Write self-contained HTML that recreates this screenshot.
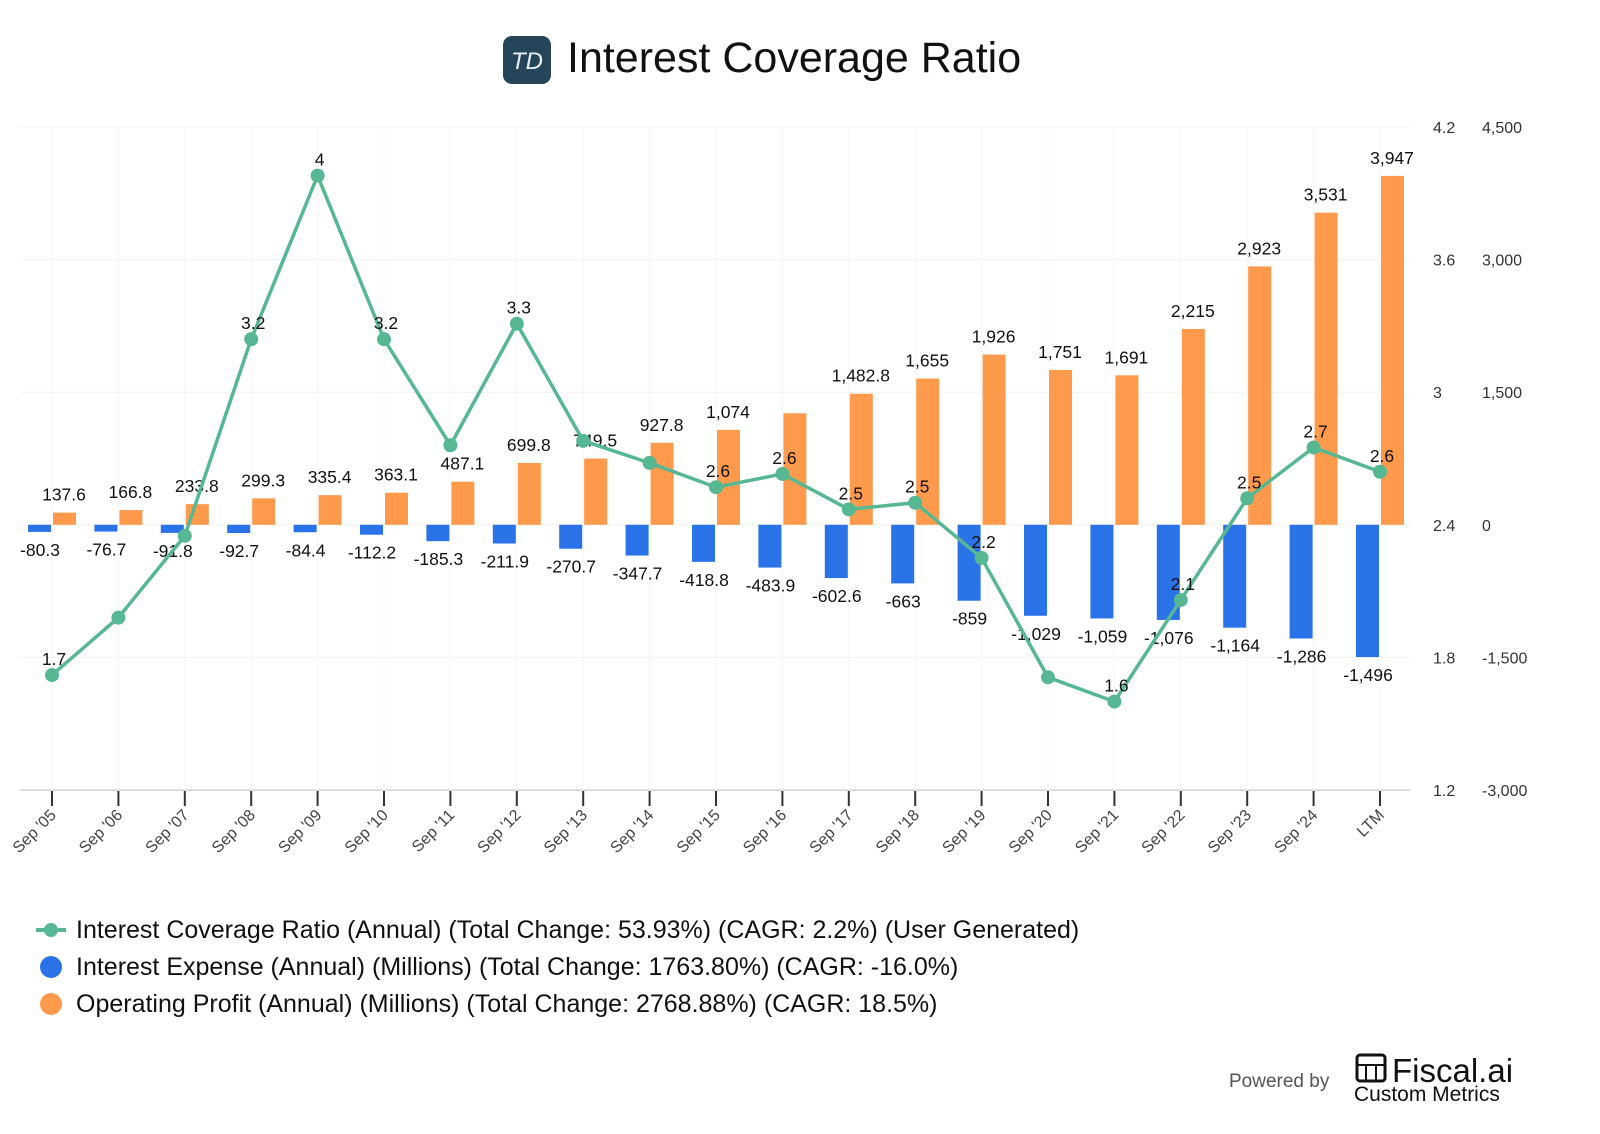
<!DOCTYPE html>
<html><head><meta charset="utf-8"><style>
body{margin:0;background:#fff;font-family:"Liberation Sans",sans-serif;}
svg{display:block}
svg text{font-family:"Liberation Sans",sans-serif;}
</style></head><body>
<svg id="c" width="1600" height="1134" viewBox="0 0 1600 1134" xmlns="http://www.w3.org/2000/svg">
<g>
<rect x="503" y="36" width="48" height="48" rx="9" fill="#24455a"/>
<text x="527" y="69" text-anchor="middle" font-size="24" font-style="italic" fill="#e8eef2">TD</text>
<text x="567" y="72" font-size="43" fill="#111">Interest Coverage Ratio</text>
</g>
<g id="grid"></g>
<g id="bars"></g>
<g id="line"></g>
<g id="axes"></g>
<g>
<g><line x1="36" y1="930" x2="66" y2="930" stroke="#55b892" stroke-width="4"/><circle cx="51" cy="930" r="7" fill="#55b892"/><text x="76" y="938" font-size="25" fill="#111">Interest Coverage Ratio (Annual) (Total Change: 53.93%) (CAGR: 2.2%) (User Generated)</text></g>
<g><circle cx="51" cy="967" r="11" fill="#2a72e8"/><text x="76" y="975" font-size="25" fill="#111">Interest Expense (Annual) (Millions) (Total Change: 1763.80%) (CAGR: -16.0%)</text></g>
<g><circle cx="51" cy="1004" r="11" fill="#ff9a4d"/><text x="76" y="1012" font-size="25" fill="#111">Operating Profit (Annual) (Millions) (Total Change: 2768.88%) (CAGR: 18.5%)</text></g>
</g>
<g>
<text x="1229" y="1087" font-size="19" fill="#555">Powered by</text>
<rect x="1357" y="1055" width="28" height="26" rx="3" fill="none" stroke="#111" stroke-width="3"/>
<line x1="1357" y1="1065" x2="1385" y2="1065" stroke="#111" stroke-width="2"/>
<line x1="1366" y1="1065" x2="1366" y2="1081" stroke="#111" stroke-width="2"/>
<line x1="1376" y1="1065" x2="1376" y2="1081" stroke="#111" stroke-width="2"/>
<text x="1392" y="1082" font-size="33" fill="#111">Fiscal.ai</text>
<text x="1354" y="1101" font-size="21" fill="#111">Custom Metrics</text>
</g>
</svg>
<script>
const categories=["Sep '05","Sep '06","Sep '07","Sep '08","Sep '09","Sep '10","Sep '11","Sep '12","Sep '13","Sep '14","Sep '15","Sep '16","Sep '17","Sep '18","Sep '19","Sep '20","Sep '21","Sep '22","Sep '23","Sep '24","LTM"];
const ratioValues=[1.72,1.98,2.35,3.24,3.98,3.24,2.76,3.31,2.78,2.68,2.57,2.63,2.47,2.50,2.25,1.71,1.60,2.06,2.52,2.75,2.64];
const ratioLabels=["1.7","","","3.2","4","3.2","","3.3","","","2.6","2.6","2.5","2.5","2.2","","1.6","2.1","2.5","2.7","2.6"];
const expenseValues=[-80.3,-76.7,-91.8,-92.7,-84.4,-112.2,-185.3,-211.9,-270.7,-347.7,-418.8,-483.9,-602.6,-663,-859,-1029,-1059,-1076,-1164,-1286,-1496];
const expenseLabels=["-80.3","-76.7","-91.8","-92.7","-84.4","-112.2","-185.3","-211.9","-270.7","-347.7","-418.8","-483.9","-602.6","-663","-859","-1,029","-1,059","-1,076","-1,164","-1,286","-1,496"];
const profitValues=[137.6,166.8,233.8,299.3,335.4,363.1,487.1,699.8,749.5,927.8,1074,1262,1482.8,1655,1926,1751,1691,2215,2923,3531,3947];
const profitLabels=["137.6","166.8","233.8","299.3","335.4","363.1","487.1","699.8","749.5","927.8","1,074","","1,482.8","1,655","1,926","1,751","1,691","2,215","2,923","3,531","3,947"];
const ratioTicks=[1.2,1.8,2.4,3,3.6,4.2];
const ratioTickLabels=["1.2","1.8","2.4","3","3.6","4.2"];
const moneyTicks=[-3000,-1500,0,1500,3000,4500];
const moneyTickLabels=["-3,000","-1,500","0","1,500","3,000","4,500"];

const NS="http://www.w3.org/2000/svg";
const pTop=127,pBot=790,pLeft=20,pRight=1410;
const yR=v=>pBot-(v-1.2)/3*(pBot-pTop);
const yM=v=>pBot-(v+3000)/7500*(pBot-pTop);
const xC=i=>52+i*(1380-52)/(categories.length-1);
function mk(tag,attrs,parent,txt){const e=document.createElementNS(NS,tag);for(const k in attrs)e.setAttribute(k,attrs[k]);if(txt!==undefined)e.textContent=txt;document.getElementById(parent).appendChild(e);return e;}
ratioTicks.forEach((t,i)=>{
 const y=yR(t);
 const g=mk('line',{x1:pLeft,x2:pRight,y1:y,y2:y,stroke:i==0?'#ddd':'#f0f0f0','stroke-width':i==0?2:1},'grid');
 
 
 const a=mk('text',{x:1433,y:y+6,'font-size':16,fill:'#333'},'axes',ratioTickLabels[i]);
 
 
});
moneyTicks.forEach((t,i)=>{
 const b=mk('text',{x:1482,y:yM(t)+6,'font-size':16,fill:'#333'},'axes',moneyTickLabels[i]);
 
 
});
categories.forEach((c,i)=>{
 const x=xC(i);
 const v=mk('line',{x1:x,x2:x,y1:pTop,y2:pBot,stroke:'#f6f6f6'},'grid');
 
 
 const tk=mk('line',{x1:x,x2:x,y1:pBot+1,y2:pBot+16,stroke:'#333','stroke-width':2},'axes');
 
 
 const lb=mk('text',{x:x+5,y:pBot+26,'font-size':16,fill:'#444','text-anchor':'end',transform:`rotate(-45 ${x+5} ${pBot+26})`},'axes',c);
 
 
 const z=yM(0),bw=23;
 const ye=yM(expenseValues[i]);
 const be=mk('rect',{x:x-bw-1,y:z,width:bw,height:Math.max(0,ye-z),fill:'#2a72e8'},'bars');
 
 
 const te=mk('text',{x:x-12,y:ye+24,'font-size':17.5,fill:'#111','text-anchor':'middle'},'bars',expenseLabels[i]);
 
 
 const yp=yM(profitValues[i]);
 const bp=mk('rect',{x:x+1,y:yp,width:bw,height:Math.max(0,z-yp),fill:'#ff9a4d'},'bars');
 
 
 const tp=mk('text',{x:x+12,y:yp-12,'font-size':17.5,fill:'#111','text-anchor':'middle'},'bars',profitLabels[i]);
 
 
});
const pts=ratioValues.map((v,i)=>xC(i)+','+yR(v)).join(' ');
const pl=mk('polyline',{points:pts,fill:'none',stroke:'#55b892','stroke-width':3.5},'line');


ratioValues.forEach((v,i)=>{
 const c=mk('circle',{cx:xC(i),cy:yR(v),r:7,fill:'#55b892'},'line');
 
 
 if(ratioLabels[i]){
  const t=mk('text',{x:xC(i)+2,y:yR(v)-10,'font-size':17.5,fill:'#111','text-anchor':'middle'},'line',ratioLabels[i]);
  
  
 }
});
</script>
</body></html>
